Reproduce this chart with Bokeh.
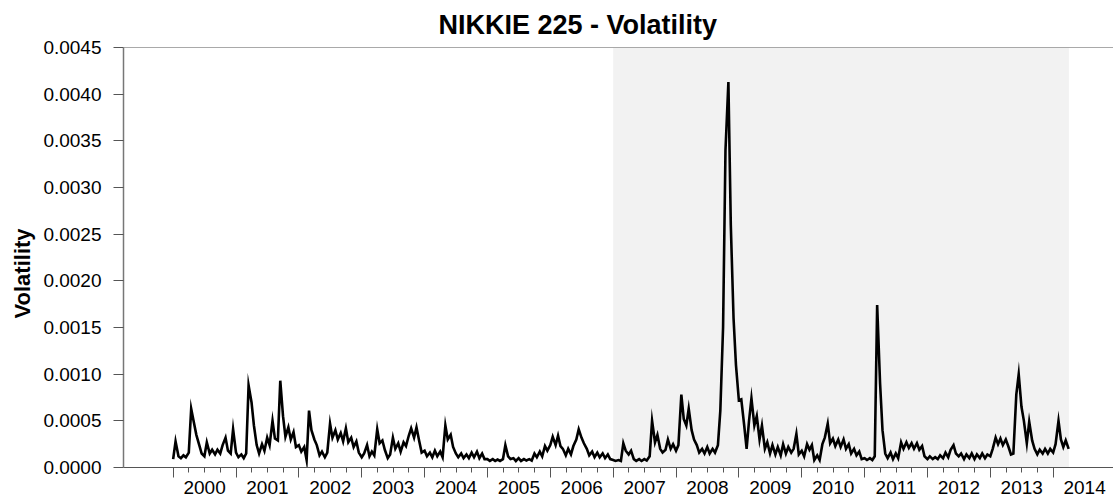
import numpy as np
import pandas as pd
from bokeh.plotting import figure
from bokeh.models import Range1d, FixedTicker, LinearAxis, BoxAnnotation, Span, PrintfTickFormatter, Title
from bokeh.embed import file_html
from bokeh.resources import INLINE

# ---------------- data ----------------
title_text = "NIKKIE 225 - Volatility"
y_label = "Volatility"
years = list(range(2000, 2015))
year_labels = [str(y) for y in years]
y_ticks = [0.0, 0.0005, 0.0010, 0.0015, 0.0020, 0.0025, 0.0030, 0.0035, 0.0040, 0.0045]
shade_start = 2007.0
shade_end = 2014.25

# semi-monthly readings (1st and 15th of each month), in units of 1e-4
v2000 = [0.9, 2.8, 1.2, 1.0, 1.3, 1.1, 1.6, 6.3, 4.8, 3.5, 2.4, 1.5, 1.2, 2.7, 1.5, 1.9, 1.4, 1.9, 1.5, 2.4, 3.2, 1.8, 1.5, 4.1]
v2001 = [1.6, 1.1, 1.4, 1.0, 1.5, 8.8, 7.0, 4.5, 2.4, 1.5, 2.5, 1.8, 3.2, 2.4, 5.0, 3.1, 2.9, 9.3, 5.5, 3.3, 4.3, 3.0, 3.8, 2.2]
v2002 = [2.4, 1.7, 2.2, 0.8, 6.1, 4.0, 3.0, 2.4, 1.3, 1.7, 1.1, 1.6, 4.7, 3.2, 4.0, 3.0, 3.7, 2.8, 4.2, 2.7, 3.2, 2.2, 2.8, 1.6]
v2003 = [1.1, 1.5, 2.4, 1.2, 1.7, 1.3, 4.1, 2.6, 2.9, 1.9, 1.0, 1.4, 3.2, 2.0, 2.6, 1.7, 2.7, 2.3, 3.4, 4.2, 3.2, 4.3, 2.8, 1.6]
v2004 = [1.8, 1.2, 1.6, 1.1, 1.8, 1.2, 1.7, 1.1, 4.5, 3.0, 3.5, 2.2, 1.5, 1.1, 1.5, 1.0, 1.4, 1.0, 1.6, 1.1, 1.7, 1.0, 1.5, 0.9]
v2005 = [0.9, 0.7, 0.9, 0.7, 0.85, 0.7, 0.9, 2.4, 1.2, 0.9, 1.0, 0.7, 1.0, 0.7, 0.9, 0.75, 0.9, 0.75, 1.5, 1.1, 1.7, 1.2, 2.3, 1.8]
v2006 = [2.4, 3.3, 2.4, 3.4, 2.3, 2.0, 1.3, 2.0, 1.4, 2.3, 3.0, 4.1, 3.2, 2.6, 2.0, 1.3, 1.7, 1.1, 1.6, 1.1, 1.5, 1.0, 1.4, 0.9]
v2007 = [0.8, 0.7, 0.8, 0.7, 2.6, 1.8, 1.4, 1.8, 0.9, 0.7, 0.9, 0.7, 0.9, 0.75, 1.2, 5.0, 2.7, 3.5, 2.0, 1.6, 1.9, 3.0, 2.0, 2.5]
v2008 = [1.8, 2.4, 7.8, 5.2, 4.5, 6.3, 4.0, 3.0, 2.4, 1.6, 2.0, 1.5, 2.2, 1.5, 2.0, 1.6, 2.4, 6.1, 15.0, 34.0, 41.3, 26.0, 16.0, 11.0]
v2009 = [7.2, 7.3, 4.5, 2.0, 5.0, 7.4, 4.5, 5.5, 3.0, 4.5, 2.0, 2.7, 1.5, 2.4, 1.4, 2.2, 1.3, 2.5, 1.5, 2.2, 1.6, 2.0, 3.6, 1.4]
v2010 = [1.8, 1.2, 2.5, 1.9, 2.4, 0.8, 1.3, 0.8, 2.5, 3.2, 4.7, 2.6, 3.1, 2.3, 3.0, 2.2, 3.0, 2.0, 2.5, 1.5, 2.0, 1.3, 1.7, 0.9]
v2011 = [1.0, 0.8, 1.0, 0.8, 1.2, 17.4, 9.0, 4.0, 1.5, 1.0, 1.6, 0.9, 1.5, 1.0, 2.7, 2.0, 2.7, 2.1, 2.6, 2.0, 2.6, 1.9, 2.3, 1.2]
v2012 = [0.9, 1.2, 0.9, 1.1, 0.9, 1.3, 1.0, 1.6, 1.1, 1.9, 2.4, 1.5, 1.2, 1.5, 0.9, 1.4, 1.0, 1.5, 0.9, 1.4, 1.0, 1.5, 1.0, 1.4]
v2013 = [1.2, 2.0, 3.2, 2.5, 3.1, 2.4, 3.0, 2.3, 1.4, 1.5, 7.8, 10.0, 6.5, 5.0, 2.6, 4.9, 2.9, 2.0, 1.4, 1.9, 1.5, 2.0, 1.5, 2.0]
v2014 = [1.6, 2.5, 5.0, 3.0, 2.2, 2.9, 2.0]

vol_e4 = (v2000 + v2001 + v2002 + v2003 + v2004 + v2005 + v2006 + v2007
          + v2008 + v2009 + v2010 + v2011 + v2012 + v2013 + v2014)

dates = pd.date_range("2000-01-01", periods=len(vol_e4), freq="SMS")
days_in_year = np.where(dates.is_leap_year, 366.0, 365.0)
x = np.asarray(dates.year, dtype=float) + (np.asarray(dates.dayofyear, dtype=float) - 1.0) / days_in_year
y = np.array(vol_e4) * 1e-4

# ---------------- figure ----------------
FONT = "Liberation Sans"
AXC = "#555555"

p = figure(width=1113, height=501, output_backend="svg", toolbar_location=None,
           x_range=Range1d(1999.21, 2014.96), y_range=Range1d(0.0, 0.0045),
           x_axis_location=None, y_axis_location=None,
           min_border_left=123, min_border_right=0, min_border_top=47, min_border_bottom=34,
           title=title_text)
p.outline_line_color = None
p.background_fill_color = "white"
p.border_fill_color = "white"
p.grid.visible = False

p.title.align = "left"
p.title.offset = 315
p.title.text_font = FONT
p.title.text_font_size = "27px"
p.title.text_font_style = "bold"
p.title.text_color = "black"
p.title.standoff = 15

shade = BoxAnnotation(left=shade_start, right=shade_end, fill_color="#f2f2f2",
                      fill_alpha=1.0, line_color=None, level="underlay")
p.add_layout(shade)

p.add_layout(Span(location=y_ticks[-1], dimension="width", line_color=AXC, line_width=1.2))

p.line(x, y, line_color="black", line_width=2.6, line_join="miter")

# y axis
ya = LinearAxis(ticker=FixedTicker(ticks=y_ticks), formatter=PrintfTickFormatter(format="%.4f"),
                major_tick_out=10, major_tick_in=0, minor_tick_line_color=None,
                major_label_standoff=12, major_label_text_font=FONT,
                major_label_text_font_size="19px", major_label_text_color="black",
                axis_line_color="#777777", axis_line_width=1.5, major_tick_line_color=AXC)
p.add_layout(ya, "left")

# y label, placed like the reference (below the frame centre)
ylab = Title(text=y_label, align="left", offset=149, standoff=12,
             text_font=FONT, text_font_size="22px", text_font_style="bold", text_color="black")
p.add_layout(ylab, "left")

# x axis: tick marks at years (long) and quarters (short)
quarters = [years[0] + 0.25 * k for k in range(4 * (len(years) - 1) + 1)]
xa = LinearAxis(ticker=FixedTicker(ticks=years, minor_ticks=quarters),
                major_tick_out=10, major_tick_in=0, minor_tick_out=5, minor_tick_in=0,
                major_label_overrides={yy: "" for yy in years},
                major_label_text_font_size="0px", major_label_standoff=0,
                axis_line_color=AXC, major_tick_line_color=AXC, minor_tick_line_color=AXC)
p.add_layout(xa, "below")

# x labels centred in each year
label_pos = [yy + 0.5 for yy in years]
xl = LinearAxis(ticker=FixedTicker(ticks=label_pos),
                major_label_overrides={pos: lab for pos, lab in zip(label_pos, year_labels)},
                major_tick_line_color=None, minor_tick_line_color=None, axis_line_color=None,
                major_tick_out=0, minor_tick_out=0, major_label_standoff=3,
                major_label_text_font=FONT, major_label_text_font_size="19px",
                major_label_text_color="black")
p.add_layout(xl, "below")

open("out.html", "w").write(file_html(p, INLINE))
